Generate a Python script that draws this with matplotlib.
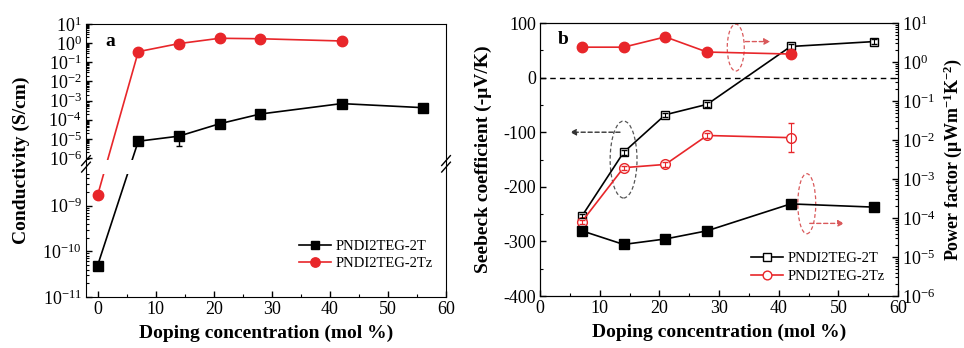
import numpy as np
import matplotlib
matplotlib.use('Agg')
import matplotlib.pyplot as plt
from matplotlib import ticker
from matplotlib.patches import Ellipse

plt.rcParams['font.family'] = 'Liberation Serif'
plt.rcParams['mathtext.fontset'] = 'custom'
plt.rcParams['mathtext.rm'] = 'Liberation Serif'
plt.rcParams['mathtext.it'] = 'Liberation Serif:italic'
plt.rcParams['mathtext.bf'] = 'Liberation Serif:bold'
plt.rcParams['axes.unicode_minus'] = False

# ---- data, panel a (conductivity) ----
dop_2t = [0, 7, 14, 21, 28, 42, 56]
cond_2t = [4.9e-11, 7.6e-6, 1.4e-5, 6.2e-5, 2.0e-4, 7.0e-4, 4.3e-4]
cond_2t_lo = [0, 3e-6, 9.5e-6, 2.5e-5, 9e-5, 1.2e-4, 8e-5]
cond_2t_hi = [0, 2e-6, 4e-6, 2.5e-5, 6e-5, 1.5e-4, 1e-4]
dop_2tz = [0, 7, 14, 21, 28, 42]
cond_2tz = [1.7e-9, 0.36, 0.95, 1.8, 1.7, 1.3]

# ---- data, panel b (Seebeck and power factor) ----
dop_b_2t = [7, 14, 21, 28, 42, 56]
seeb_2t = [-254, -137, -68, -49, 57, 66]
seeb_2t_err = [4, 4, 4, 4, 4, 4]
pf_2t = [4.7e-5, 2.1e-5, 2.9e-5, 4.7e-5, 2.3e-4, 1.9e-4]
dop_b_2tz = [7, 14, 21, 28, 42]
seeb_2tz = [-264, -165, -159, -106, -110]
seeb_2tz_err = [4, 4, 4, 4, 26]
pf_2tz = [2.4, 2.4, 4.4, 1.8, 1.6]

RED = '#e8262a'
TICK_FS = 13
LAB_FS = 14

# broken log axis for panel a: lower part 1e-11..1e-8.1, upper part 1e-6.25..1e1
LO, HI, GAP, R = -8.1, -6.25, 0.04, 0.42


def fwd(y):
    L = np.log10(np.maximum(np.asarray(y, float), 1e-30))
    low = L + 11
    mid = (LO + 11) + (L - LO) / (HI - LO) * GAP
    up = (LO + 11) + GAP + (L - HI) * R
    return np.where(L <= LO, low, np.where(L >= HI, up, mid))


def inv(u):
    u = np.asarray(u, float)
    b1 = LO + 11
    b2 = b1 + GAP
    L = np.where(u <= b1, u - 11,
                 np.where(u >= b2, HI + (u - b2) / R, LO + (u - b1) / GAP * (HI - LO)))
    return 10.0 ** L


def pow_fmt(v, pos):
    return r'$10^{%d}$' % int(round(np.log10(v)))


def style_ticks(a, **kw):
    a.tick_params(which='both', direction='in', labelsize=TICK_FS, **kw)
    a.tick_params(which='major', length=4.5, width=1, pad=3)
    a.tick_params(which='minor', length=2.5, width=0.8)


fig = plt.figure(figsize=(9.64, 3.48), dpi=100)

# ================= panel a =================
ax = fig.add_axes([0.0892, 0.1466, 0.3735, 0.7844])
ax.set_yscale('function', functions=(fwd, inv))
ax.errorbar(dop_2t, cond_2t, yerr=[cond_2t_lo, cond_2t_hi], fmt='none', ecolor='black',
            capsize=2.5, elinewidth=1)
ax.plot(dop_2t, cond_2t, color='black', marker='s', ms=6.5, lw=1.2, label='PNDI2TEG-2T')
ax.plot(dop_2tz, cond_2tz, color=RED, marker='o', ms=7.5, lw=1.2, label='PNDI2TEG-2Tz')
ax.set_xlim(-2, 60)
ax.set_ylim(1e-11, 10)

# cut the lines where the axis is broken
ax.axhspan(10 ** -8.3, 10 ** -6.1, color='white', zorder=2.3, lw=0)

major = [1e-11, 1e-10, 1e-9] + [10.0 ** d for d in range(-6, 2)]
minor = [m * 10.0 ** d for d in range(-11, 1) for m in range(2, 10)]
minor = [v for v in minor if np.log10(v) < LO - 0.15 or np.log10(v) > HI]
ax.yaxis.set_major_locator(ticker.FixedLocator(major))
ax.yaxis.set_major_formatter(ticker.FuncFormatter(pow_fmt))
ax.yaxis.set_minor_locator(ticker.FixedLocator(minor))
ax.yaxis.set_minor_formatter(ticker.NullFormatter())
ax.xaxis.set_major_locator(ticker.MultipleLocator(10))
ax.xaxis.set_minor_locator(ticker.MultipleLocator(5))
style_ticks(ax, top=False, right=False)

# break marks on both spines
yb = ax.transAxes.inverted().transform(ax.transData.transform((0, 10 ** -7.2)))[1]
for x0 in (0.0, 1.0):
    for dy in (-0.012, 0.012):
        ax.plot([x0 - 0.012, x0 + 0.012], [yb - 0.018 + dy, yb + 0.018 + dy],
                transform=ax.transAxes, color='black', lw=1, clip_on=False, zorder=5)

ax.set_xlabel('Doping concentration (mol %)', fontsize=LAB_FS, fontweight='bold')
ax.set_ylabel('Conductivity (S/cm)', fontsize=LAB_FS, fontweight='bold')
ax.xaxis.set_label_coords(0.5, -0.1)
ax.yaxis.set_label_coords(-0.155, 0.5)
ax.text(0.067, 0.935, 'a', transform=ax.transAxes, fontsize=LAB_FS, fontweight='bold',
        ha='center', va='center')
ax.legend(loc='lower right', bbox_to_anchor=(1.0, 0.05), frameon=False, fontsize=10.5,
          handlelength=2.2, handletextpad=0.3, labelspacing=0.3, markerscale=0.9)

# ================= panel b =================
bx = fig.add_axes([0.5602, 0.1494, 0.3714, 0.7845])
bx.axhline(0, color='black', ls=(0, (4, 3)), lw=1)
bx.plot(dop_b_2t, seeb_2t, color='black', marker='s', ms=6, mfc='white', lw=1.2,
        label='PNDI2TEG-2T', zorder=3)
bx.errorbar(dop_b_2t, seeb_2t, yerr=seeb_2t_err, fmt='none', ecolor='black',
            elinewidth=0.8, capsize=2.5, zorder=4)
bx.plot(dop_b_2tz, seeb_2tz, color=RED, marker='o', ms=7, mfc='white', lw=1.2,
        label='PNDI2TEG-2Tz', zorder=3)
bx.errorbar(dop_b_2tz, seeb_2tz, yerr=seeb_2tz_err, fmt='none', ecolor=RED,
            elinewidth=0.8, capsize=2.5, zorder=4)
bx.set_xlim(0, 60)
bx.set_ylim(-400, 100)
bx.xaxis.set_major_locator(ticker.MultipleLocator(10))
bx.xaxis.set_minor_locator(ticker.MultipleLocator(5))
bx.yaxis.set_major_locator(ticker.MultipleLocator(100))
bx.yaxis.set_minor_locator(ticker.MultipleLocator(50))
style_ticks(bx, top=False, right=False)
bx.set_xlabel('Doping concentration (mol %)', fontsize=LAB_FS, fontweight='bold')
bx.set_ylabel('Seebeck coefficient (-μV/K)', fontsize=LAB_FS, fontweight='bold')
bx.xaxis.set_label_coords(0.5, -0.1)
bx.yaxis.set_label_coords(-0.135, 0.5)
bx.text(0.064, 0.94, 'b', transform=bx.transAxes, fontsize=LAB_FS, fontweight='bold',
        ha='center', va='center')

# dashed ellipses + arrows marking which axis each curve belongs to
bx.add_patch(Ellipse((dop_b_2t[1], -150), 4.5, 141, fill=False, ec='#555555',
                     ls=(0, (3, 2)), lw=0.9))
bx.annotate('', xy=(5.0, -100), xytext=(13.4, -100),
            arrowprops=dict(arrowstyle='-|>', ls=(0, (3, 2)), color='#333333', lw=1,
                            mutation_scale=9, shrinkA=0, shrinkB=0))
bx.add_patch(Ellipse((32.8, 55), 2.85, 86, fill=False, ec='#d9595b',
                     ls=(0, (3, 2)), lw=0.9))
bx.annotate('', xy=(38.6, 66), xytext=(34.4, 66),
            arrowprops=dict(arrowstyle='-|>', ls=(0, (3, 2)), color='#d9595b', lw=1,
                            mutation_scale=9, shrinkA=0, shrinkB=0))
bx.add_patch(Ellipse((44.7, -231), 3.0, 110, fill=False, ec='#d9595b',
                     ls=(0, (3, 2)), lw=0.9))
bx.annotate('', xy=(51.0, -267), xytext=(45.2, -267),
            arrowprops=dict(arrowstyle='-|>', ls=(0, (3, 2)), color='#d9595b', lw=1,
                            mutation_scale=9, shrinkA=0, shrinkB=0))

br = bx.twinx()
br.set_yscale('log')
br.plot(dop_b_2t, pf_2t, color='black', marker='s', ms=7, lw=1.2)
br.plot(dop_b_2tz, pf_2tz, color=RED, marker='o', ms=7.5, lw=1.2)
br.set_ylim(1e-6, 10)
br.yaxis.set_major_locator(ticker.LogLocator(base=10, numticks=20))
br.yaxis.set_major_formatter(ticker.FuncFormatter(pow_fmt))
br.yaxis.set_minor_locator(ticker.LogLocator(base=10, subs=np.arange(2, 10), numticks=20))
br.yaxis.set_minor_formatter(ticker.NullFormatter())
style_ticks(br)
br.set_ylabel(r'Power factor (μWm$^{\mathbf{-1}}$K$^{\mathbf{-2}}$)', fontsize=13,
              fontweight='bold')
br.yaxis.set_label_coords(1.12, 0.5)

h, l = bx.get_legend_handles_labels()
br.legend(h, l, loc='lower right', bbox_to_anchor=(1.0, 0.0), frameon=False, fontsize=10.5,
          handlelength=2.2, handletextpad=0.3, labelspacing=0.3, markerscale=0.9)

fig.savefig('out.png', dpi=100)
